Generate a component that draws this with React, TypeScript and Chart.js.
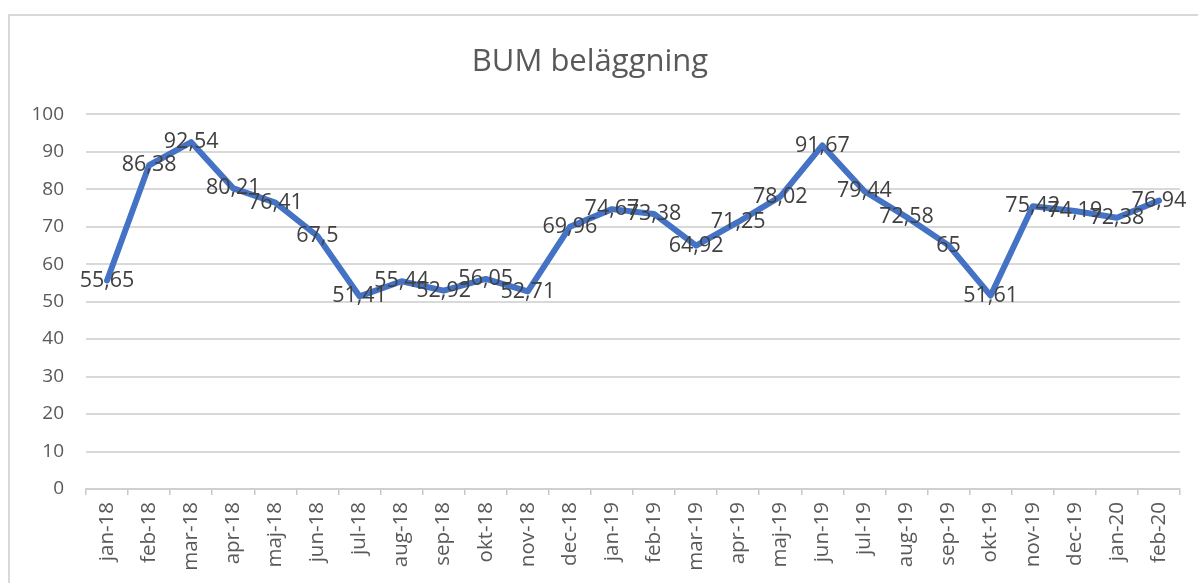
import React, { useEffect, useRef } from "react";
import { Chart, registerables } from "chart.js";

Chart.register(...registerables);

const categories: string[] = [
  "jan-18", "feb-18", "mar-18", "apr-18", "maj-18", "jun-18", "jul-18", "aug-18", "sep-18", "okt-18", "nov-18", "dec-18",
  "jan-19", "feb-19", "mar-19", "apr-19", "maj-19", "jun-19", "jul-19", "aug-19", "sep-19", "okt-19", "nov-19", "dec-19",
  "jan-20", "feb-20",
];

const values: number[] = [
  55.65, 86.38, 92.54, 80.21, 76.41, 67.5, 51.41, 55.44, 52.92, 56.05, 52.71, 69.96,
  74.67, 73.38, 64.92, 71.25, 78.02, 91.67, 79.44, 72.58, 65, 51.61, 75.42, 74.19,
  72.38, 76.94,
];

const yMin = 0;
const yMax = 100;
const yStep = 10;

const TITLE = "BUM beläggning";
const FONT = "'Open Sans', 'Noto Sans', sans-serif";

const fmt = (v: number) => String(v).replace(".", ",");

const dataLabelPlugin = {
  id: "dataLabels",
  afterDatasetsDraw(chart: any) {
    const ctx = chart.ctx;
    const meta = chart.getDatasetMeta(0);
    ctx.save();
    ctx.font = `21.5px ${FONT}`;
    ctx.fillStyle = "#404040";
    ctx.textAlign = "center";
    ctx.textBaseline = "middle";
    meta.data.forEach((pt: any, i: number) => {
      ctx.fillText(fmt(values[i]), pt.x, pt.y);
    });
    ctx.restore();
  },
};

export default function App() {
  const ref = useRef<HTMLCanvasElement | null>(null);

  useEffect(() => {
    if (!ref.current) return;
    const chart = new Chart(ref.current, {
      type: "line",
      data: {
        labels: categories,
        datasets: [
          {
            data: values,
            borderColor: "#4472C4",
            borderWidth: 6,
            borderJoinStyle: "round",
            borderCapStyle: "round",
            pointRadius: 0,
            tension: 0,
            fill: false,
          },
        ],
      },
      options: {
        animation: false,
        responsive: false,
        maintainAspectRatio: false,
        layout: { padding: { left: 0, right: 18, top: 0, bottom: 0 } },
        plugins: {
          legend: { display: false },
          tooltip: { enabled: false },
          title: {
            display: true,
            text: TITLE,
            color: "#595959",
            font: { family: FONT, size: 31, weight: "normal" },
            padding: { top: 44, bottom: 33 },
          },
        },
        scales: {
          x: {
            type: "category",
            offset: true,
            grid: {
              offset: true,
              drawOnChartArea: false,
              drawTicks: true,
              tickLength: 6,
              color: "#c8c8c8",
              lineWidth: 1.5,
            },
            border: { display: true, color: "#d0d0d0", width: 2 },
            ticks: {
              autoSkip: false,
              minRotation: 90,
              maxRotation: 90,
              color: "#595959",
              font: { family: FONT, size: 20.5 },
              padding: 7,
            },
            afterFit(scale: any) {
              scale.height = 94;
            },
          },
          y: {
            min: yMin,
            max: yMax,
            ticks: {
              stepSize: yStep,
              color: "#595959",
              font: { family: FONT, size: 19 },
              padding: 22,
            },
            grid: { color: "#d9d9d9", lineWidth: 2, drawTicks: false },
            border: { display: false },
            afterFit(scale: any) {
              scale.width = 86;
            },
          },
        },
      },
      plugins: [dataLabelPlugin],
    });
    return () => chart.destroy();
  }, []);

  return (
    <div style={{ position: "fixed", left: 0, top: 0, width: 1198, height: 583, background: "#fff", overflow: "hidden" }}>
      <div
        style={{
          position: "absolute",
          left: 8,
          top: 14,
          width: 1250,
          height: 650,
          border: "2px solid #d9d9d9",
          boxSizing: "border-box",
        }}
      />
      <canvas ref={ref} width={1198} height={583} style={{ position: "absolute", left: 0, top: 0, width: 1198, height: 583 }} />
    </div>
  );
}
